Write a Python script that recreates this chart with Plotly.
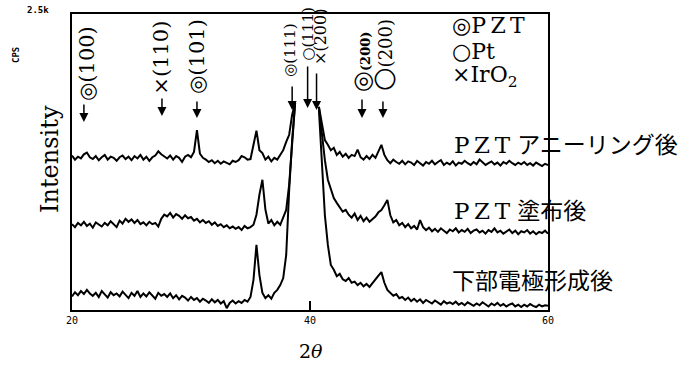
import plotly.graph_objects as go

# 2-theta grid, 20..60 deg, 0.25 deg step (161 points)
two_theta = [20 + 0.25 * i for i in range(161)]

N = None
# PZT annealed (top trace), cps
annealed = [
    1305, 1270, 1295, 1280, 1315, 1330, 1290, 1275,
    1300, 1265, 1290, 1310, 1270, 1295, 1285, 1260,
    1290, 1305, 1275, 1295, 1265, 1300, 1280, 1310,
    1270, 1295, 1260, 1290, 1305, 1340, 1315, 1295,
    1280, 1305, 1270, 1300, 1285, 1250, 1295, 1310,
    1290, 1335, 1520, 1320, 1285, 1270, 1250, 1265,
    1240, 1260, 1235, 1255, 1245, 1230, 1260, 1250,
    1265, 1300, 1290, 1270, 1275, 1390, 1515, 1350,
    1325, 1270, 1295, 1255, 1285, 1270, 1310, 1350,
    1420, 1480, 1650, 1750, N, N, N, N,
    N, N, N, 1715, 1590, 1435, 1395, 1350,
    1370, 1310, 1335, 1295, 1320, 1285, 1310, 1300,
    1355, 1290, 1270, 1300, 1275, 1310, 1285, 1335,
    1395, 1310, 1265, 1240, 1270, 1250, 1235, 1260,
    1230, 1255, 1245, 1225, 1260, 1240, 1220, 1250,
    1235, 1260, 1230, 1250, 1265, 1225, 1245, 1230,
    1255, 1220, 1245, 1235, 1260, 1240, 1225, 1250,
    1230, 1270, 1245, 1225, 1240, 1255, 1230, 1245,
    1220, 1250, 1235, 1260, 1240, 1225, 1245, 1230,
    1250, 1225, 1240, 1220, 1245, 1230, 1215, 1235,
    1225,
]
# PZT coated (middle trace), cps
coated = [
    725, 700, 735, 715, 745, 710, 730, 695,
    740, 720, 705, 735, 715, 750, 725, 700,
    755, 730, 770, 745, 765, 735, 760, 725,
    740, 715, 745, 725, 735, 705, 770, 805,
    790, 820, 780, 810, 795, 770, 800, 775,
    785, 755, 770, 740, 760, 735, 750, 720,
    740, 710, 725, 700, 715, 690, 705, 685,
    700, 675, 710, 690, 700, 720, 805, 975,
    1100, 850, 730, 760, 715, 745, 720, 780,
    845, 1060, 1435, 1750, N, N, N, N,
    N, N, N, 1715, 1480, 1265, 1100, 1015,
    945, 905, 870, 830, 845, 805, 780, 815,
    760, 795, 750, 780, 745, 770, 790, 825,
    845, 885, 930, 800, 740, 760, 715, 735,
    700, 725, 690, 710, 680, 760, 700, 675,
    695, 665, 685, 660, 690, 670, 650, 680,
    665, 690, 655, 675, 660, 685, 650, 670,
    680, 655, 670, 645, 675, 660, 690, 655,
    670, 645, 665, 680, 650, 670, 640, 665,
    655, 675, 645, 665, 640, 660, 650, 670,
    645,
]
# After bottom electrode formation (bottom trace), cps
electrode = [
    115, 150, 125, 160, 135, 170, 140, 120,
    145, 110, 160, 130, 105, 150, 125, 140,
    115, 155, 130, 100, 145, 120, 160, 110,
    140, 115, 150, 125, 95, 145, 120, 135,
    110, 140, 100, 125, 90, 120, 105, 80,
    110, 85, 100, 70, 95, 80, 60, 90,
    65, 85, 55, 75, 15, 60, 80, 55,
    75, 60, 85, 70, 110, 255, 550, 295,
    145, 100, 125, 95, 145, 170, 210, 270,
    465, 1015, 1435, 1750, N, N, N, N,
    N, N, N, 1690, 1270, 800, 550, 380,
    340, 285, 305, 260, 245, 270, 230, 240,
    210, 230, 200, 220, 195, 230, 255, 290,
    320, 230, 170, 145, 120, 135, 100, 110,
    85, 105, 75, 95, 70, 90, 60, 85,
    70, 55, 80, 60, 45, 75, 55, 65,
    50, 70, 45, 60, 40, 65, 50, 35,
    55, 40, 65, 45, 30, 55, 40, 60,
    35, 50, 30, 45, 55, 30, 45, 25,
    45, 30, 50, 35, 25, 45, 30, 40,
    35,
]

series_names = ["P\u2009Z\u2009T アニーリング後", "P\u2009Z\u2009T 塗布後", "下部電極形成後"]
x_ticks = [20, 40, 60]

# peak labels: text, 2theta position
peak_labels = [
    "◎(100)", "×(110)", "◎(101)", "◎(111)", "○(111)", "×(200)",
    "<span style='font-size:24px'>◎</span><b>(200)</b>",
    "<span style='font-size:27px'>○</span>(200)",
]
peak_pos = [21.26, 27.45, 30.5, 38.3, 39.8, 40.84, 44.37, 46.13]
arrow_pos = [21.0, 27.56, 30.5, 38.5, 39.8, 40.55, 44.37, 46.13]

legend_lines = ["◎P\u2009Z\u2009T", "○Pt", "×IrO<sub>2</sub>"]

SERIF = "DejaVu Serif, Liberation Serif, Noto Sans CJK JP, serif"
MONO = "DejaVu Sans Mono, monospace"

fig = go.Figure()
for ys in (annealed, coated, electrode):
    fig.add_trace(go.Scatter(x=two_theta, y=ys, mode="lines",
                             line=dict(color="black", width=2),
                             connectgaps=False, showlegend=False,
                             hoverinfo="skip"))

W, H = 698, 370
L, R, T, B = 72, 150, 14, 60
ph = H - T - B
pw = W - L - R

def py(p):
    return (H - B - p) / ph

def px(p):
    return (p - L) / pw

ann = []
# peak labels (rotated)
label_py = [63, 58, 56, 50, 34, 37, 62, 55]
label_size = [21, 21, 21, 15, 15, 16, 13, 18]
for t, xp, yy, fs in zip(peak_labels, peak_pos, label_py, label_size):
    ann.append(dict(x=xp, xref="x", y=py(yy), yref="paper", text=t, textangle=-90,
                    showarrow=False, xanchor="center", yanchor="middle",
                    font=dict(family=SERIF, size=fs, color="black")))
# arrows
arrow_tail = [103, 97, 100, 85, 65, 72, 98, 100]
arrow_head = [122, 116, 118, 110, 108, 110, 118, 118]
for xp, ta, he in zip(arrow_pos, arrow_tail, arrow_head):
    ann.append(dict(x=xp, xref="x", y=py(he), yref="paper", text="", showarrow=True,
                    ax=0, ay=-(he - ta), arrowhead=2, arrowsize=1.2, arrowwidth=1.5,
                    arrowcolor="black"))
# material legend
for t, yy in zip(legend_lines, [25, 51, 76]):
    ann.append(dict(x=px(450), xref="paper", y=py(yy), yref="paper", text=t,
                    showarrow=False, xanchor="left", yanchor="middle",
                    font=dict(family=SERIF, size=22, color="black")))
# sample names
for t, yy, x0 in zip(series_names, [145, 211, 281], [452, 452, 450]):
    ann.append(dict(x=px(x0), xref="paper", y=py(yy), yref="paper", text=t,
                    showarrow=False, xanchor="left", yanchor="middle",
                    font=dict(family=SERIF, size=23, color="black")))
# axis texts
ann.append(dict(x=px(50), xref="paper", y=py(159), yref="paper", text="Intensity",
                textangle=-90, showarrow=False, xanchor="center", yanchor="middle",
                font=dict(family=SERIF, size=24, color="black")))
ann.append(dict(x=px(16), xref="paper", y=py(55), yref="paper", text="<b>CPS</b>",
                textangle=-90, showarrow=False, xanchor="center", yanchor="middle",
                font=dict(family=MONO, size=9, color="black")))
ann.append(dict(x=px(38), xref="paper", y=py(10), yref="paper", text="<b>2.5k</b>",
                showarrow=False, xanchor="center", yanchor="middle",
                font=dict(family=MONO, size=9, color="black")))
ann.append(dict(x=px(311), xref="paper", y=py(351), yref="paper", text="2<i>θ</i>",
                showarrow=False, xanchor="center", yanchor="middle",
                font=dict(family=SERIF, size=19, color="black")))

fig.update_layout(
    width=W, height=H,
    margin=dict(l=L, r=R, t=T, b=B),
    paper_bgcolor="white", plot_bgcolor="white",
    annotations=ann,
    xaxis=dict(range=[20, 60], tickvals=x_ticks, ticktext=[str(v) for v in x_ticks],
               ticks="inside", ticklen=9, tickwidth=1.5, tickcolor="black",
               showline=True, mirror=True, linecolor="black", linewidth=1.5,
               showgrid=False, zeroline=False,
               tickfont=dict(family=MONO, size=10, color="black")),
    yaxis=dict(range=[0, 2500], showticklabels=False, ticks="",
               showline=True, mirror=True, linecolor="black", linewidth=1.5,
               showgrid=False, zeroline=False),
)

fig.write_html("out.html")
